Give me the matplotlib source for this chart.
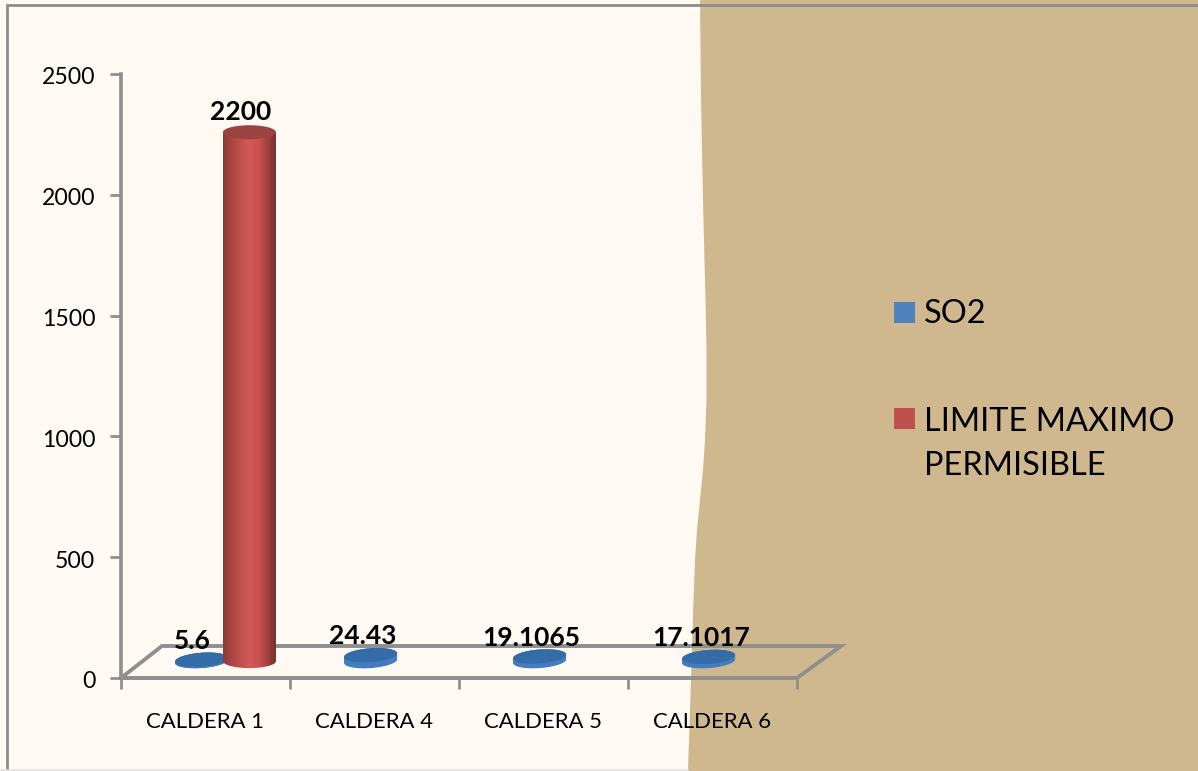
import numpy as np
import matplotlib
matplotlib.use("Agg")
import matplotlib.pyplot as plt
from matplotlib.colors import LinearSegmentedColormap
from matplotlib.patches import Polygon, Rectangle
from matplotlib.transforms import ScaledTranslation

plt.rcParams['font.family'] = ['Lato', 'DejaVu Sans']

categories = ["CALDERA 1", "CALDERA 4", "CALDERA 5", "CALDERA 6"]
so2 = [5.6, 24.43, 19.1065, 17.1017]
so2_labels = ["5.6", "24.43", "19.1065", "17.1017"]
limit_value = 2200
limit_label = "2200"
y_ticks = [0, 500, 1000, 1500, 2000, 2500]
legend_labels = ["SO2", "LIMITE MAXIMO\nPERMISIBLE"]

W, H = 1198, 771
BG = "#fef9f3"
TAN = "#cfb88e"
GREY = "#8f8f8f"

fig = plt.figure(figsize=(W / 100, H / 100), dpi=100, facecolor=BG)

# page layer in pixel coordinates
bgax = fig.add_axes([0, 0, 1, 1], zorder=0)
bgax.set_xlim(0, W); bgax.set_ylim(H, 0); bgax.axis("off")
edge_y = [0, 100, 200, 300, 350, 400, 440, 470, 500, 530, 560, 600, 680, 771]
edge_x = [700, 701, 703, 705.5, 706.5, 706.5, 705, 703, 700, 697, 695, 693.5, 691, 688]
bgax.add_patch(Polygon(list(zip(edge_x, edge_y)) + [(W, H), (W, 0)], fc=TAN, ec="none"))
bgax.plot([6.5, 6.5, W], [771, 4.6, 4.6], color="#8c8c8c", lw=2.0, solid_joinstyle="miter")
bgax.plot([0, 688], [769.5, 769.5], color="#e4e2df", lw=1.2)

# chart axes: x in category units, y in data units
L, R, T, B = 121, 797, 74, 678
ax = fig.add_axes([L / W, 1 - B / H, (R - L) / W, (B - T) / H], zorder=1)
ax.patch.set_alpha(0)
ax.set_xlim(0, 4)
ax.set_ylim(0, 2500)
sx = 4 / (R - L)          # data units per pixel
sy = 2500 / (B - T)

for s in ("top", "right"):
    ax.spines[s].set_visible(False)
for s in ("left", "bottom"):
    ax.spines[s].set_color(GREY)
    ax.spines[s].set_linewidth(2.6)
ax.set_yticks(y_ticks)
ax.set_xticks(range(5))
ax.set_xticklabels([])
ax.tick_params(axis="y", length=8, width=2, color=GREY, labelsize=16.6, pad=10.5, labelcolor="black")
ax.tick_params(axis="x", length=8, width=2, color=GREY)
shift = ScaledTranslation(0, -2 / 100, fig.dpi_scale_trans)
for lab in ax.get_yticklabels():
    lab.set_transform(lab.get_transform() + shift)
for i, c in enumerate(categories):
    ax.text(i + 0.495, -182, c, ha="center", va="center", fontsize=15.9, color="black", clip_on=False)

# floor of the pseudo 3D plot
dxl, dxr, dy = 41 * sx, 44 * sx, 32 * sy
ax.plot([0, dxl, 4 + dxr, 4, 0], [0, dy, dy, 0, 0], color=GREY, lw=2.8, clip_on=False,
        solid_joinstyle="miter", zorder=2)

def ellipse(cx, cy, a_px, b_px, tilt=0.0):
    t = np.linspace(0, 2 * np.pi, 121)
    px = a_px * np.cos(t)
    py = b_px * np.sin(t) + tilt * a_px * np.cos(t)
    return np.c_[cx + px * sx, cy + py * sy]

BASE = 70
blue_off = -0.023
for i, v in enumerate(so2):
    cx = i + 0.5 + blue_off
    for step in np.linspace(0, v, 8):
        ax.add_patch(Polygon(ellipse(cx, BASE + step, 26.5, 7, 0.07), fc="#437dbf", ec="none", zorder=3))
    ax.add_patch(Polygon(ellipse(cx, BASE + v, 26.5, 7, 0.07), fc="#346ca8", ec="none", zorder=3))
    ax.text(i + 0.43 - 0.01 * (i == 0), 148 + v, so2_labels[i], ha="center", va="center",
            fontsize=19, fontweight="bold", color="black", zorder=6)

# red cylinder
DEPTH_SCALE = 0.995
cx = 0.5 + 0.26
hw = 26.5 * sx
height = limit_value * DEPTH_SCALE
body = ax.bar(cx, height, width=2 * hw, bottom=BASE, color="none", zorder=4)[0]
cmap = LinearSegmentedColormap.from_list("cyl", ["#8a3a38", "#ad4542", "#c24f4c", "#d05a57", "#c9524f", "#a8423f", "#703030"])
grad = np.linspace(0, 1, 256).reshape(1, -1)
top = BASE + height
foot = ellipse(cx, BASE, 26.5, 7)
low = foot[foot[:, 1] <= BASE]
clip = np.vstack([[cx - hw, top], [cx + hw, top], low[np.argsort(-low[:, 0])]])
im = ax.imshow(grad, extent=[cx - hw, cx + hw, BASE - 40, top], aspect="auto", cmap=cmap, zorder=4)
patch = Polygon(clip, transform=ax.transData, fc="none", ec="none")
ax.add_patch(patch)
im.set_clip_path(patch)
ax.add_patch(Polygon(ellipse(cx, top, 26.5, 7), fc="#9a4341", ec="none", zorder=5))
ax.set_xlim(0, 4); ax.set_ylim(0, 2500)
ax.text(cx - 0.05, limit_value + 143, limit_label, ha="center", va="center", fontsize=19,
        fontweight="bold", color="black", zorder=6, clip_on=False)

# legend
for y, color in zip((312.5, 418.5), ("#4f81bd", "#c0504d")):
    bgax.add_patch(Rectangle((894, y - 10.5), 21, 21, fc=color, ec="none"))
bgax.text(924, 314, legend_labels[0], fontsize=23.4, va="center", ha="left", color="black")
bgax.text(924, 444, legend_labels[1], fontsize=23.4, va="center", ha="left", color="black", linespacing=1.58)

fig.savefig("out.png", dpi=100, facecolor=BG)
